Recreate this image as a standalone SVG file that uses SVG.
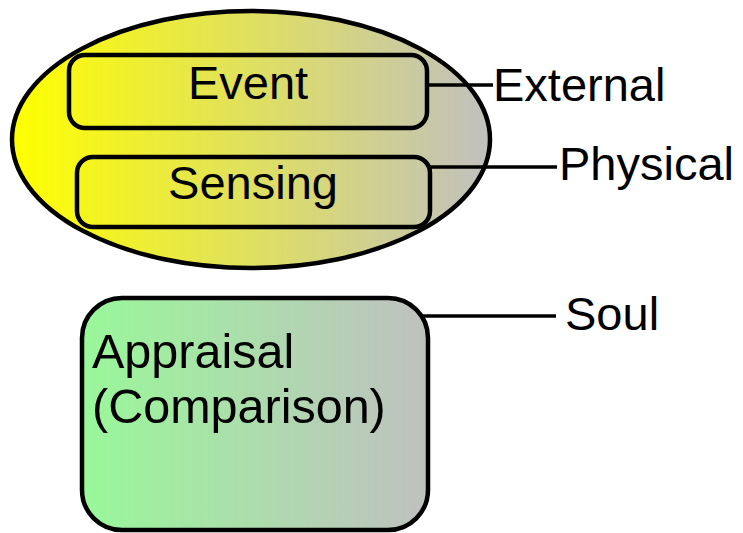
<svg xmlns="http://www.w3.org/2000/svg" width="743" height="533" viewBox="0 0 743 533">
<defs>
<linearGradient id="gy" gradientUnits="userSpaceOnUse" x1="12" y1="0" x2="490" y2="0">
<stop offset="0" stop-color="#ffff00"/>
<stop offset="1" stop-color="#c0c0c0"/>
</linearGradient>
<linearGradient id="gg" gradientUnits="userSpaceOnUse" x1="82" y1="0" x2="428" y2="0">
<stop offset="0" stop-color="#99f899"/>
<stop offset="1" stop-color="#c0c0c0"/>
</linearGradient>
</defs>
<style>
.s{stroke:#000;stroke-width:4.5;}
.t{font-family:"Liberation Sans",Arial,sans-serif;font-size:47px;fill:#000;}
.a{font-size:48.5px;}
.c{stroke:#000;stroke-width:3.5;fill:none;}
</style>
<g id="outer">
<ellipse class="s" cx="251" cy="139.5" rx="239" ry="128.5" fill="url(#gy)"/>
</g>
<g id="event">
<rect class="s" x="69" y="55" width="358" height="73" rx="16" ry="16" fill="url(#gy)"/>
<text class="t" x="248" y="99" text-anchor="middle">Event</text>
</g>
<g id="sensing">
<rect class="s" x="77" y="157" width="353" height="70" rx="16" ry="16" fill="url(#gy)"/>
<text class="t" x="253" y="199" text-anchor="middle">Sensing</text>
</g>
<g id="appraisal">
<rect class="s" x="82" y="298" width="346" height="232" rx="40" ry="40" fill="url(#gg)"/>
<text class="t a" x="92" y="368">Appraisal</text>
<text class="t a" x="92" y="423">(Comparison)</text>
</g>
<g id="connectors">
<line class="c" x1="427" y1="85" x2="493" y2="85"/>
<line class="c" x1="430" y1="167" x2="557" y2="167"/>
<line class="c" x1="420" y1="316" x2="556" y2="316"/>
</g>
<g id="labels">
<text class="t" x="493" y="101">External</text>
<text class="t" x="559" y="180">Physical</text>
<text class="t" x="565" y="330">Soul</text>
</g>
</svg>
